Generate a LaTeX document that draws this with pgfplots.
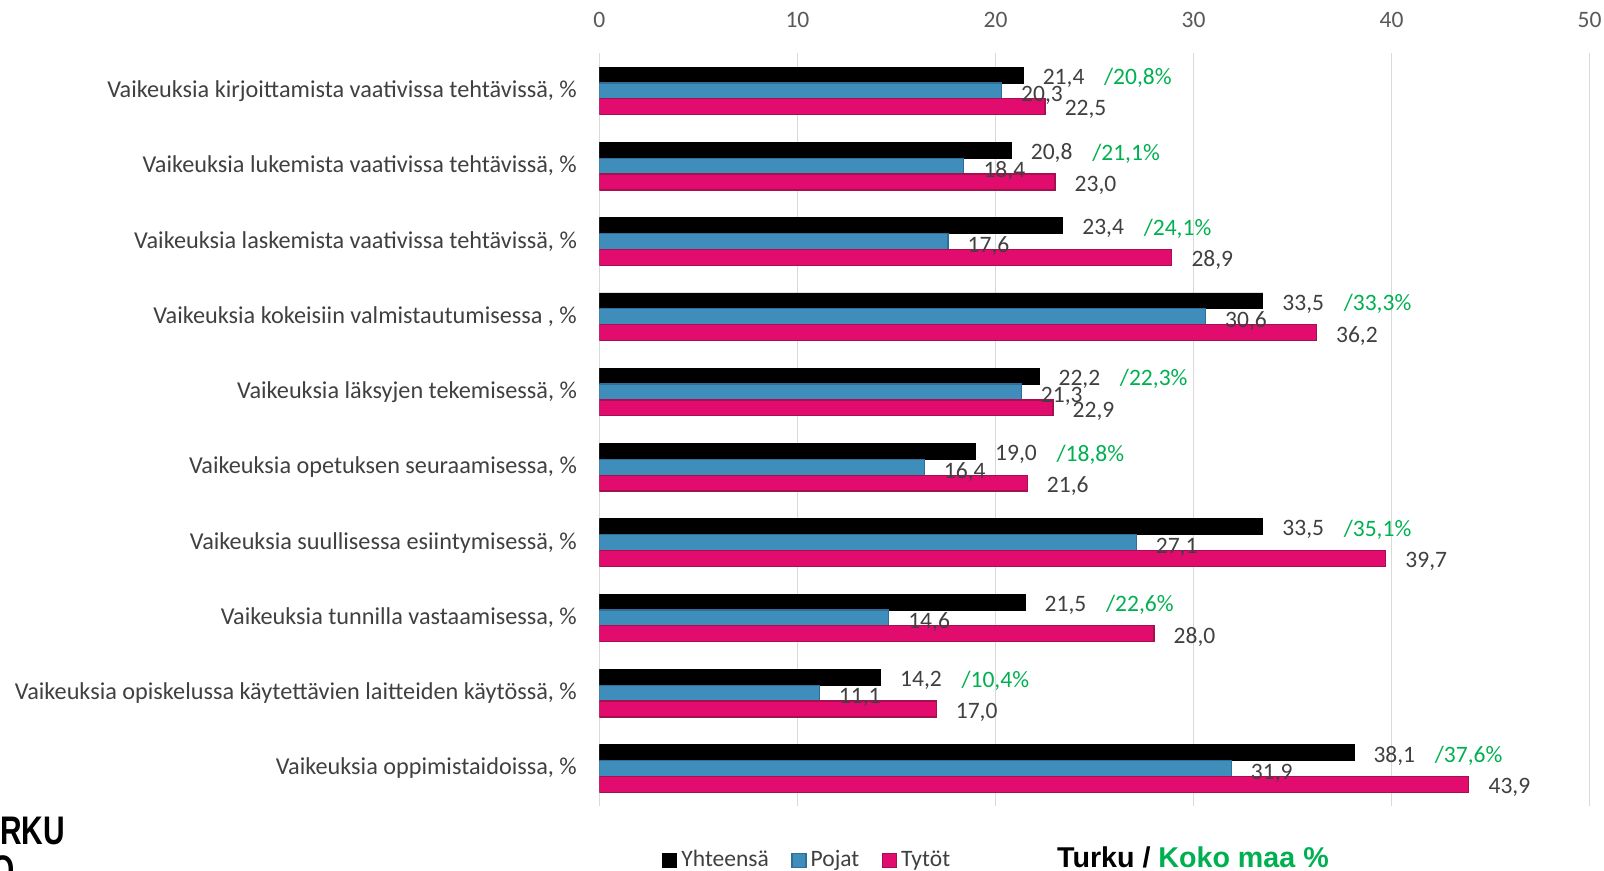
\documentclass[border=0pt]{standalone}
\usepackage{pgfplots}
\pgfplotsset{compat=1.18}
\usepackage{pgfplotstable}
\usepackage{graphicx}
\usepackage{fontspec}
\setmainfont{Carlito}
\newfontfamily\headfont{Liberation Sans}
\usetikzlibrary{calc}

\definecolor{cblue}{HTML}{3F8DBB}
\definecolor{cblueedge}{HTML}{2F6E96}
\definecolor{cpink}{HTML}{E20B6E}
\definecolor{cpinkedge}{HTML}{A3124F}
\definecolor{cgreen}{HTML}{00B050}
\definecolor{labgray}{HTML}{404040}
\definecolor{tickgray}{HTML}{595959}
\definecolor{gridgray}{HTML}{D9D9D9}

% idx 9 = top row; all = Koko maa (national) figure
\pgfplotstableread{
idx tot  boys girls all
9   21.4 20.3 22.5  20.8
8   20.8 18.4 23.0  21.1
7   23.4 17.6 28.9  24.1
6   33.5 30.6 36.2  33.3
5   22.2 21.3 22.9  22.3
4   19.0 16.4 21.6  18.8
3   33.5 27.1 39.7  35.1
2   21.5 14.6 28.0  22.6
1   14.2 11.1 17.0  10.4
0   38.1 31.9 43.9  37.6
}\data

\begin{document}
\begin{tikzpicture}
\begin{axis}[
  scale only axis, width=484pt, height=368pt,
  xmin=0, xmax=50, ymin=-0.5, ymax=9.5,
  xbar, bar width=7.75pt,
  axis line style={draw=none},
  major tick length=0pt,
  xtick={0,10,...,50}, xticklabel pos=top, xticklabel shift=9pt,
  xmajorgrids, grid style={gridgray, line width=0.7pt},
  ytick={0,...,9}, yticklabel shift=7.5pt,
  yticklabels={
    {Vaikeuksia oppimistaidoissa, \%},
    {Vaikeuksia opiskelussa käytettävien laitteiden käytössä, \%},
    {Vaikeuksia tunnilla vastaamisessa, \%},
    {Vaikeuksia suullisessa esiintymisessä, \%},
    {Vaikeuksia opetuksen seuraamisessa, \%},
    {Vaikeuksia läksyjen tekemisessä, \%},
    {Vaikeuksia kokeisiin valmistautumisessa , \%},
    {Vaikeuksia laskemista vaativissa tehtävissä, \%},
    {Vaikeuksia lukemista vaativissa tehtävissä, \%},
    {Vaikeuksia kirjoittamista vaativissa tehtävissä, \%}},
  /pgf/number format/assume math mode=true,
  tick label style={font=\fontsize{11.5}{13}\selectfont},
  xticklabel style={text=tickgray},
  yticklabel style={text=labgray, font=\fontsize{11.85}{13}\selectfont},
  nodes near coords={\pgfmathprintnumber[fixed,fixed zerofill,precision=1,use comma,assume math mode=true]{\pgfplotspointmeta}},
  nodes near coords style={anchor=west, text=labgray, xshift=6pt, yshift=-1.5pt,
    font=\fontsize{11.5}{13}\selectfont},
  legend style={at={(0.063,-0.072)}, anchor=west, draw=none, fill=none,
    legend columns=3, font=\fontsize{11.5}{13}\selectfont, text=labgray,
    inner sep=0pt, /tikz/every even column/.append style={column sep=9pt}},
  legend image code/.code={\draw[#1, line width=0.6pt] (0pt,-3.4pt) rectangle (6.8pt,3.4pt);},
]
\addplot[fill=black, draw=black, line width=0.4pt, bar shift=7.75pt]
  table[x=tot, y=idx] {\data};
\addlegendentry{Yhteensä}
\addplot[fill=cblue, draw=cblueedge, line width=0.6pt, bar shift=0pt,
  nodes near coords style={yshift=-0.7pt}]
  table[x=boys, y=idx] {\data};
\addlegendentry{Pojat}
\addplot[fill=cpink, draw=cpinkedge, line width=0.6pt, bar shift=-7.75pt]
  table[x=girls, y=idx] {\data};
\addlegendentry{Tytöt}
% national comparison figures, written after the Turku total
\addplot[draw=none, fill=none, bar shift=7.75pt, forget plot,
  point meta=\thisrow{all},
  nodes near coords={\textcolor{cgreen}{/\pgfmathprintnumber[fixed,fixed zerofill,precision=1,use comma,assume math mode=true]{\pgfplotspointmeta}\%}},
  nodes near coords style={xshift=30pt}]
  table[x=tot, y=idx] {\data};
\end{axis}

\begin{scope}[shift={($(current axis.south west)+(-293pt,394pt)$)}, x=0.5pt, y=-0.5pt]
  \node[anchor=base west, inner sep=0pt] at (1033,848)
    {\headfont\bfseries\fontsize{14}{16}\selectfont Turku / \textcolor{cgreen}{Koko maa \%}};
  \begin{scope}
    \clip (0,0) rectangle (1568,851);
    \node[anchor=base east, inner sep=0pt] at (64,826)
      {\scalebox{0.75}[1]{\headfont\bfseries\fontsize{19.5}{20}\selectfont TURKU}};
    \node[anchor=base east, inner sep=0pt] at (15,864)
      {\scalebox{0.75}[1]{\headfont\bfseries\fontsize{19.5}{20}\selectfont ÅBO}};
  \end{scope}
  \pgfresetboundingbox
  \useasboundingbox (0,0) rectangle (1568,851);
\end{scope}
\end{tikzpicture}
\end{document}
